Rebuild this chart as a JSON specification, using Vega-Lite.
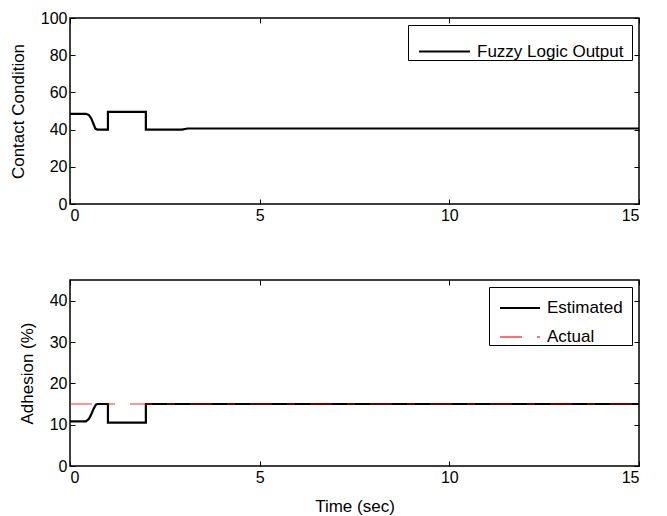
{
  "$schema": "https://vega.github.io/schema/vega-lite/v6.json",
  "background": "white",
  "padding": {"left": 8, "top": 9, "right": 20, "bottom": 5},
  "resolve": {
    "scale": {"color": "independent", "strokeDash": "independent", "opacity": "independent", "strokeWidth": "independent"},
    "legend": {"color": "independent", "strokeDash": "independent", "opacity": "independent", "strokeWidth": "independent"}
  },
  "config": {
    "font": "Liberation Sans",
    "view": {"stroke": "black", "strokeWidth": 1.5},
    "axis": {
      "grid": false,
      "domain": false,
      "tickColor": "black",
      "tickSize": -5,
      "labelPadding": 8,
      "labelFontSize": 16,
      "labelColor": "black",
      "labelFont": "Liberation Sans",
      "titleFont": "Liberation Sans",
      "titleFontSize": 17,
      "titleFontWeight": "normal",
      "titleColor": "black"
    },
    "legend": {
      "orient": "top-right",
      "strokeColor": "black",
      "fillColor": "white",
      "padding": 0,
      "offset": 7,
      "symbolType": "stroke",
      "symbolSize": 2600,
      "symbolStrokeWidth": 2,
      "symbolOffset": 10,
      "labelFontSize": 17,
      "labelFont": "Liberation Sans",
      "labelColor": "black",
      "labelOffset": 6,
      "rowPadding": -14
    },
    "concat": {"spacing": 54}
  },
  "datasets": {
    "top": [
      {"t": 0, "v": 48.5, "series": "Fuzzy Logic Output"},
      {"t": 0.42, "v": 48.5, "series": "Fuzzy Logic Output"},
      {"t": 0.5, "v": 47.8, "series": "Fuzzy Logic Output"},
      {"t": 0.56, "v": 46, "series": "Fuzzy Logic Output"},
      {"t": 0.62, "v": 43, "series": "Fuzzy Logic Output"},
      {"t": 0.67, "v": 40.5, "series": "Fuzzy Logic Output"},
      {"t": 0.72, "v": 40, "series": "Fuzzy Logic Output"},
      {"t": 1.0, "v": 40, "series": "Fuzzy Logic Output"},
      {"t": 1.0, "v": 49.5, "series": "Fuzzy Logic Output"},
      {"t": 2.0, "v": 49.5, "series": "Fuzzy Logic Output"},
      {"t": 2.0, "v": 40, "series": "Fuzzy Logic Output"},
      {"t": 2.95, "v": 40, "series": "Fuzzy Logic Output"},
      {"t": 3.1, "v": 40.6, "series": "Fuzzy Logic Output"},
      {"t": 15, "v": 40.6, "series": "Fuzzy Logic Output"}
    ],
    "bottom": [
      {"t": 0, "v": 10.8, "series": "Estimated"},
      {"t": 0.42, "v": 10.8, "series": "Estimated"},
      {"t": 0.5, "v": 11.4, "series": "Estimated"},
      {"t": 0.56, "v": 12.5, "series": "Estimated"},
      {"t": 0.62, "v": 13.8, "series": "Estimated"},
      {"t": 0.68, "v": 14.8, "series": "Estimated"},
      {"t": 0.72, "v": 15, "series": "Estimated"},
      {"t": 1.0, "v": 15, "series": "Estimated"},
      {"t": 1.0, "v": 10.5, "series": "Estimated"},
      {"t": 2.0, "v": 10.5, "series": "Estimated"},
      {"t": 2.0, "v": 15, "series": "Estimated"},
      {"t": 15, "v": 15, "series": "Estimated"},
      {"t": 0, "v": 15, "series": "Actual"},
      {"t": 15, "v": 15, "series": "Actual"}
    ]
  },
  "vconcat": [
    {
      "width": 569,
      "height": 186,
      "data": {"name": "top"},
      "resolve": {"axis": {"x": "independent", "y": "independent"}},
      "layer": [
        {
          "mark": {"type": "line", "strokeWidth": 2.2, "interpolate": "linear"},
          "encoding": {
            "x": {"field": "t", "type": "quantitative",
                  "scale": {"domain": [0, 15], "nice": false},
                  "axis": {"values": [0, 5, 10, 15], "title": null, "orient": "bottom"}},
            "y": {"field": "v", "type": "quantitative",
                  "scale": {"domain": [0, 100], "nice": false},
                  "axis": {"values": [0, 20, 40, 60, 80, 100], "title": "Contact Condition", "orient": "left", "titlePadding": 13}},
            "color": {"field": "series", "type": "nominal",
                      "scale": {"domain": ["Fuzzy Logic Output"], "range": ["black"]},
                      "legend": {"title": null, "labelExpr": "datum.label + '\u2002\u200b'"}},
            "order": {"field": "t"}
          }
        },
        {
          "mark": {"type": "line", "opacity": 0},
          "encoding": {
            "x": {"field": "t", "type": "quantitative",
                  "axis": {"values": [0, 5, 10, 15], "title": null, "labels": false, "orient": "top"}},
            "y": {"field": "v", "type": "quantitative",
                  "axis": {"values": [0, 20, 40, 60, 80, 100], "title": null, "labels": false, "orient": "right"}}
          }
        }
      ]
    },
    {
      "width": 569,
      "height": 186,
      "data": {"name": "bottom"},
      "resolve": {"axis": {"x": "independent", "y": "independent"}},
      "encoding": {
        "color": {"field": "series", "type": "nominal",
                  "scale": {"domain": ["Estimated", "Actual"], "range": ["black", "#ff0000"]},
                  "legend": {"title": null, "symbolSize": 1600, "labelExpr": "datum.label + '\u2002\u200b'"}},
        "strokeDash": {"field": "series", "type": "nominal",
                  "scale": {"domain": ["Estimated", "Actual"], "range": [[1, 0], [22, 15, 8, 15]]},
                  "legend": {"title": null, "symbolSize": 1600, "labelExpr": "datum.label + '\u2002\u200b'"}},
        "opacity": {"field": "series", "type": "nominal",
                  "scale": {"domain": ["Estimated", "Actual"], "range": [1, 0.55]},
                  "legend": {"title": null, "symbolSize": 1600, "labelExpr": "datum.label + '\u2002\u200b'"}}
      },
      "layer": [
        {
          "transform": [{"filter": "datum.series === 'Estimated'"}],
          "mark": {"type": "line", "interpolate": "linear", "strokeWidth": 2.2},
          "encoding": {
            "x": {"field": "t", "type": "quantitative",
                  "scale": {"domain": [0, 15], "nice": false},
                  "axis": {"values": [0, 5, 10, 15], "title": "Time (sec)", "orient": "bottom", "titlePadding": 13}},
            "y": {"field": "v", "type": "quantitative",
                  "scale": {"domain": [0, 45], "nice": false},
                  "axis": {"values": [0, 10, 20, 30, 40], "title": "Adhesion (%)", "orient": "left", "titlePadding": 13}},
            "order": {"field": "t"}
          }
        },
        {
          "transform": [{"filter": "datum.series === 'Actual'"}],
          "mark": {"type": "line", "interpolate": "linear", "strokeWidth": 1.6},
          "encoding": {
            "x": {"field": "t", "type": "quantitative",
                  "axis": {"values": [0, 5, 10, 15], "title": null, "labels": false, "orient": "top"}},
            "y": {"field": "v", "type": "quantitative",
                  "axis": {"values": [0, 10, 20, 30, 40], "title": null, "labels": false, "orient": "right"}},
            "order": {"field": "t"}
          }
        }
      ]
    }
  ]
}
